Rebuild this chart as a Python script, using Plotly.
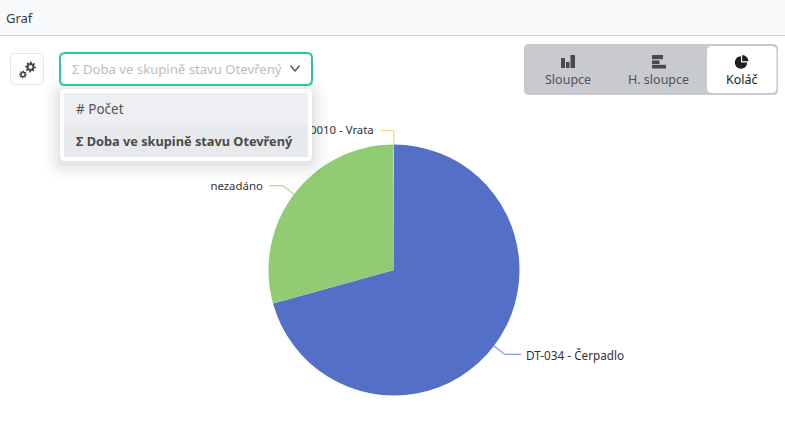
import math
import plotly.graph_objects as go

# Pie data
categories = ["DT-034 - Čerpadlo", "nezadáno", "DT-0010 - Vrata"]
durations = [70.7, 29.25, 0.05]
slice_colors = ["#5470c6", "#91cc75", "#fac858"]

# Interface captions
page_title = "Graf"
selected_metric = "Σ Doba ve skupině stavu Otevřený"
metric_options = ["# Počet", "Σ Doba ve skupině stavu Otevřený"]
view_modes = ["Sloupce", "H. sloupce", "Koláč"]

W, H = 785, 426
CX, CY, R = 394, 270, 125.5
FONT = "Noto Sans"
TEXT = "#333333"


def px(x):
    return x / W


def py(y):
    return 1 - y / H


def round_rect(x0, y0, x1, y1, r):
    return (f"M{x0+r},{y0} L{x1-r},{y0} Q{x1},{y0} {x1},{y0+r} L{x1},{y1-r} Q{x1},{y1} {x1-r},{y1} "
            f"L{x0+r},{y1} Q{x0},{y1} {x0},{y1-r} L{x0},{y0+r} Q{x0},{y0} {x0+r},{y0} Z")


def gear(cx, cy, r, teeth=8):
    pts = []
    for i in range(teeth * 4):
        a = 2 * math.pi * i / (teeth * 4)
        rr = r if i % 4 in (0, 1) else r * 0.72
        pts.append(f"{cx + rr * math.cos(a):.2f},{cy + rr * math.sin(a):.2f}")
    hole = []
    for i in range(16):
        a = -2 * math.pi * i / 16
        hole.append(f"{cx + r * 0.35 * math.cos(a):.2f},{cy + r * 0.35 * math.sin(a):.2f}")
    return "M" + " L".join(pts) + " Z M" + " L".join(hole) + " Z"


def wedge(cx, cy, r, a0, a1, steps=24):
    # Filled sector, angles clockwise from twelve o'clock in degrees
    pts = [f"{cx},{cy}"]
    for i in range(steps + 1):
        a = math.radians(a0 + (a1 - a0) * i / steps)
        pts.append(f"{cx + r * math.sin(a):.2f},{cy - r * math.cos(a):.2f}")
    return "M" + " L".join(pts) + " Z"


def shape(path, fill, line=None, width=0, layer="above"):
    return dict(type="path", path=path, xref="x", yref="y", fillcolor=fill, layer=layer,
                line=dict(color=line or "rgba(0,0,0,0)", width=width))


def label(x, y, text, color=TEXT, size=13, anchor="left", bold=False):
    return dict(x=x, y=y, xref="x", yref="y", text=f"<b>{text}</b>" if bold else text, showarrow=False,
                xanchor=anchor, yanchor="middle", borderpad=0, borderwidth=0,
                font=dict(family=FONT, size=size, color=color))


fig = go.Figure()

fig.add_trace(go.Pie(
    labels=categories, values=durations, sort=False, direction="clockwise", rotation=0,
    marker=dict(colors=slice_colors, line=dict(width=0)), textinfo="none", hoverinfo="label+percent",
    showlegend=False,
    domain=dict(x=[px(CX - R), px(CX + R)], y=[py(CY + R), py(CY - R)]),
))

# Leader lines start on the rim at each slice's mid angle
total = sum(durations)
start = 0.0
for name, value, color in zip(categories, durations, slice_colors):
    mid = (start + value / 2) / total * 2 * math.pi
    start += value
    ax, ay = CX + R * math.sin(mid), CY - R * math.cos(mid)
    bx, by = CX + (R + 14) * math.sin(mid), CY - (R + 14) * math.cos(mid)
    on_right = math.sin(mid) > 0.01
    ex = bx + 16 if on_right else bx - 14
    fig.add_trace(go.Scatter(x=[ax, bx, ex], y=[ay, by, by], mode="lines", hoverinfo="skip", showlegend=False,
                             opacity=0.7, line=dict(color=color, width=1.2)))
    tx = ex + 5 if on_right else ex - 6
    fig.add_trace(go.Scatter(x=[tx], y=[by + (2.5 if on_right else 1)], mode="text", text=[name],
                             hoverinfo="skip", showlegend=False,
                             textposition="middle right" if on_right else "middle left",
                             textfont=dict(family=FONT, size=11.75 if on_right else 11.4, color=TEXT)))

shapes = [
    # Header strip
    dict(type="rect", x0=0, x1=W, y0=0, y1=35, xref="x", yref="y", fillcolor="#f9fafb", layer="above",
         line=dict(width=0)),
    dict(type="line", x0=0, x1=W, y0=35.5, y1=35.5, xref="x", yref="y", layer="above",
         line=dict(color="#d2d3d6", width=1)),
    # Settings button
    shape(round_rect(10.5, 53.5, 43.5, 84.5, 4), "#ffffff", "#e6e7ea", 1),
    shape(gear(30.5, 67, 5.5), "#4a4a4a"),
    shape(gear(23, 74.5, 4), "#4a4a4a"),
]

# Soft shadow around the open dropdown
for grow, alpha in [(16, 0.012), (12, 0.015), (8, 0.02), (5, 0.025), (2, 0.03)]:
    shapes.append(shape(round_rect(60 - grow, 89 - grow + 3, 312 + grow, 161 + grow + 3, 6 + grow),
                        f"rgba(0,0,0,{alpha})"))
shapes += [
    shape(round_rect(60, 89, 312, 161, 5), "#ffffff"),
    dict(type="rect", x0=64, x1=308, y0=93, y1=125, xref="x", yref="y", fillcolor="#eeeff2", layer="above",
         line=dict(width=0)),
    dict(type="rect", x0=64, x1=308, y0=125, y1=157, xref="x", yref="y", fillcolor="#e8e9ec", layer="above",
         line=dict(width=0)),
    # Select box and its chevron
    shape(round_rect(60, 53, 312, 85, 5), "#ffffff", "#2cc797", 2),
    dict(type="path", path="M290.5,65.5 L295,71 L299.5,65.5", xref="x", yref="y", layer="above",
         line=dict(color="#4a4a4a", width=1.2)),
    # View switcher
    shape(round_rect(524, 44, 778, 95, 5), "#c8cacf"),
    shape(round_rect(707, 46, 776.5, 93, 5), "#ffffff"),
]

# Bar chart icon
for x0, x1, top in [(561, 565, 58), (566, 569.5, 62), (570.5, 575, 55)]:
    shapes.append(shape(f"M{x0},{top} L{x1},{top} L{x1},68 L{x0},68 Z", "#4a4a4a"))
# Horizontal bar icon
for y0, y1, right in [(55, 59.2, 663), (60.4, 64, 659.5), (64.8, 68.5, 666)]:
    shapes.append(shape(f"M652,{y0} L{right},{y0} L{right},{y1} L652,{y1} Z", "#4a4a4a"))
# Pie icon
shapes.append(shape(wedge(741, 62.5, 6.2, 90, 360), "#1f1f1f"))
shapes.append(shape(wedge(742.2, 61.3, 6.2, 0, 90), "#1f1f1f"))

annotations = [
    label(6, 17.5, page_title, size=13, color="#3a3a3a"),
    label(72, 69, selected_metric, size=13.15, color="#bdbdbd"),
    label(76, 109, metric_options[0], size=13.5, color="#555555"),
    label(76, 141, metric_options[1], size=12.75, color="#4a4a4a", bold=True),
    label(568, 79, view_modes[0], size=12.5, color="#4f5258", anchor="center"),
    label(658.5, 79, view_modes[1], size=12.5, color="#4f5258", anchor="center"),
    label(741.5, 79, view_modes[2], size=12.5, color="#222222", anchor="center"),
]

fig.update_layout(
    width=W, height=H, margin=dict(l=0, r=0, t=0, b=0), autosize=False,
    paper_bgcolor="#ffffff", plot_bgcolor="rgba(0,0,0,0)",
    xaxis=dict(range=[0, W], visible=False, fixedrange=True),
    yaxis=dict(range=[H, 0], visible=False, fixedrange=True),
    shapes=shapes, annotations=annotations,
)
fig.write_html("out.html", config=dict(displayModeBar=False))
